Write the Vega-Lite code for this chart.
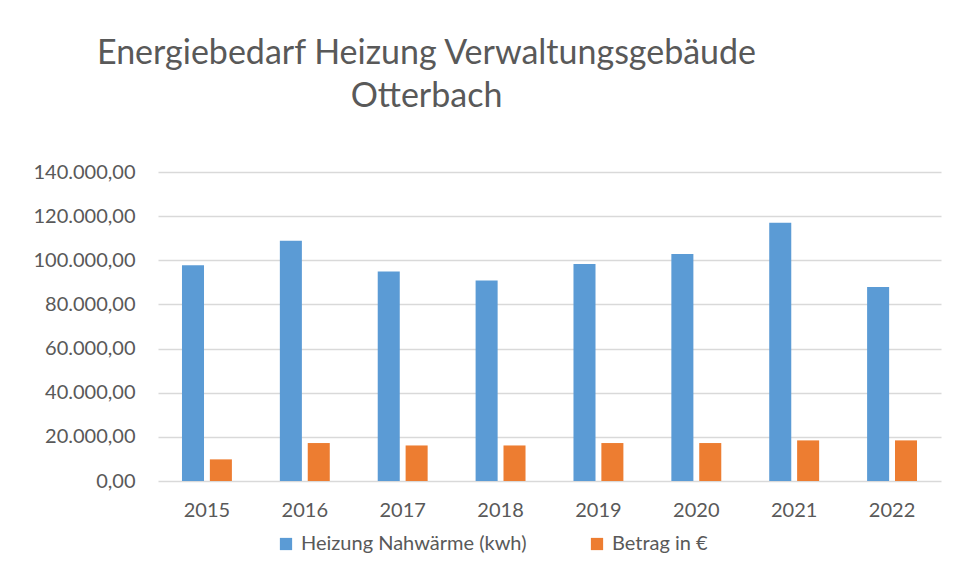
{
  "$schema": "https://vega.github.io/schema/vega-lite/v6.json",
  "width": 783,
  "height": 309,
  "autosize": {"type": "none"},
  "padding": {"left": 158, "top": 172, "right": 17, "bottom": 100},
  "background": "white",
  "title": {
    "text": ["Energiebedarf Heizung Verwaltungsgebäude", "Otterbach"],
    "anchor": "middle",
    "dx": -123,
    "offset": 48,
    "font": "Lato",
    "fontSize": 34,
    "fontWeight": "normal",
    "color": "#595959",
    "lineHeight": 43
  },
  "data": {
    "values": [
      {"Jahr": "2015", "Reihe": "Heizung Nahwärme (kwh)", "Wert": 97700},
      {"Jahr": "2015", "Reihe": "Betrag in €", "Wert": 9800},
      {"Jahr": "2016", "Reihe": "Heizung Nahwärme (kwh)", "Wert": 108900},
      {"Jahr": "2016", "Reihe": "Betrag in €", "Wert": 17200},
      {"Jahr": "2017", "Reihe": "Heizung Nahwärme (kwh)", "Wert": 94900},
      {"Jahr": "2017", "Reihe": "Betrag in €", "Wert": 16100},
      {"Jahr": "2018", "Reihe": "Heizung Nahwärme (kwh)", "Wert": 90800},
      {"Jahr": "2018", "Reihe": "Betrag in €", "Wert": 16100},
      {"Jahr": "2019", "Reihe": "Heizung Nahwärme (kwh)", "Wert": 98300},
      {"Jahr": "2019", "Reihe": "Betrag in €", "Wert": 17200},
      {"Jahr": "2020", "Reihe": "Heizung Nahwärme (kwh)", "Wert": 102900},
      {"Jahr": "2020", "Reihe": "Betrag in €", "Wert": 17200},
      {"Jahr": "2021", "Reihe": "Heizung Nahwärme (kwh)", "Wert": 117000},
      {"Jahr": "2021", "Reihe": "Betrag in €", "Wert": 18400},
      {"Jahr": "2022", "Reihe": "Heizung Nahwärme (kwh)", "Wert": 87900},
      {"Jahr": "2022", "Reihe": "Betrag in €", "Wert": 18400}
    ]
  },
  "mark": {"type": "bar"},
  "encoding": {
    "x": {
      "field": "Jahr",
      "type": "nominal",
      "scale": {"paddingInner": 0.49, "paddingOuter": 0.245},
      "axis": {
        "title": null,
        "labelAngle": 0,
        "labelFont": "Lato",
        "labelFontSize": 20,
        "labelColor": "#595959",
        "labelPadding": 19,
        "ticks": false,
        "domain": false,
        "grid": false
      }
    },
    "xOffset": {
      "field": "Reihe",
      "type": "nominal",
      "sort": ["Heizung Nahwärme (kwh)", "Betrag in €"],
      "scale": {"paddingInner": 0.21, "paddingOuter": 0}
    },
    "y": {
      "field": "Wert",
      "type": "quantitative",
      "scale": {"domain": [0, 140000]},
      "axis": {
        "title": null,
        "values": [0, 20000, 40000, 60000, 80000, 100000, 120000, 140000],
        "format": ",.2f",
        "labelFont": "Lato",
        "labelFontSize": 20,
        "labelColor": "#595959",
        "labelPadding": 23,
        "ticks": false,
        "domain": false,
        "grid": true,
        "gridColor": "#D9D9D9",
        "gridWidth": 1.5
      }
    },
    "color": {
      "field": "Reihe",
      "type": "nominal",
      "sort": ["Heizung Nahwärme (kwh)", "Betrag in €"],
      "scale": {"range": ["#5B9BD5", "#ED7D31"]},
      "legend": {
        "title": null,
        "orient": "none",
        "direction": "horizontal",
        "legendX": 118,
        "legendY": 362,
        "symbolType": "square",
        "symbolSize": 150,
        "symbolStrokeWidth": 0,
        "labelFont": "Lato",
        "labelFontSize": 20,
        "labelLimit": 0,
        "labelColor": "#595959",
        "columnPadding": 60,
        "labelOffset": 5
      }
    }
  },
  "config": {
    "locale": {
      "number": {"decimal": ",", "thousands": ".", "grouping": [3], "currency": ["", " €"]}
    },
    "view": {"stroke": null}
  }
}
